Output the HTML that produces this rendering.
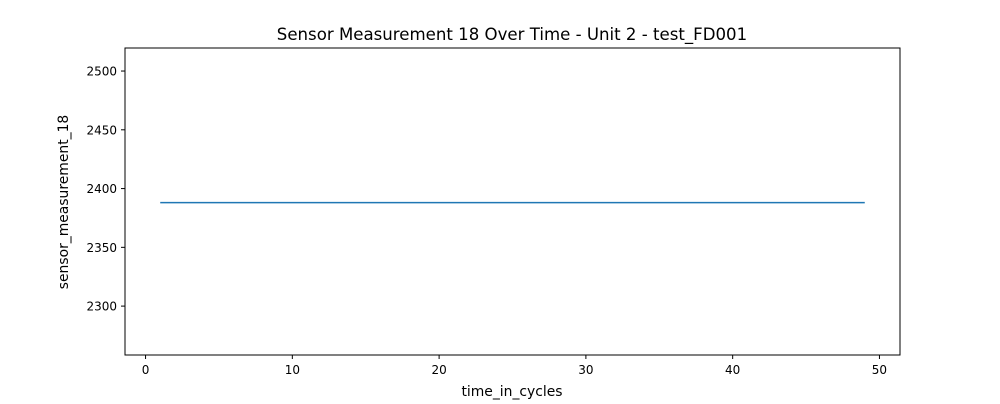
<!DOCTYPE html>
<html><head><meta charset="utf-8"><style>
body{margin:0;background:#fff;font-family:"DejaVu Sans","Liberation Sans",sans-serif;}
</style></head><body>
<svg id="chart" width="1000" height="400" xmlns="http://www.w3.org/2000/svg">
<text x="512" y="40" font-size="16.6" text-anchor="middle">Sensor Measurement 18 Over Time - Unit 2 - test_FD001</text>
<g id="plot"></g>
<text x="512" y="396" font-size="13.9" text-anchor="middle">time_in_cycles</text>
<text x="0" y="0" font-size="13.9" text-anchor="middle" transform="translate(68,202) rotate(-90)">sensor_measurement_18</text>
</svg>
<script>
const cycles = [];
for (let i = 1; i <= 49; i++) cycles.push(i);
const values = [2388,2388,2388,2388,2388,2388,2388,2388,2388,2388,2388,2388,2388,2388,2388,2388,2388,2388,2388,2388,2388,2388,2388,2388,2388,2388,2388,2388,2388,2388,2388,2388,2388,2388,2388,2388,2388,2388,2388,2388,2388,2388,2388,2388,2388,2388,2388,2388,2388];
const xTicks = [0,10,20,30,40,50];
const yTicks = [2300,2350,2400,2450,2500];

const L=125,R=900,T=48,B=355;
const xMin=-1.4,xMax=51.4,yMin=2258.4,yMax=2519.6;
const sx=v=>L+(v-xMin)/(xMax-xMin)*(R-L);
const sy=v=>B-(v-yMin)/(yMax-yMin)*(B-T);
const NS="http://www.w3.org/2000/svg";
const g=document.getElementById('plot');
function mk(t,a){const e=document.createElementNS(NS,t);for(const k in a)e.setAttribute(k,a[k]);g.appendChild(e);return e;}

const frame=mk('rect',{x:L,y:T,width:R-L,height:B-T,fill:'none',stroke:'#000','stroke-width':1});



xTicks.forEach(t=>{
  const x=sx(t);
  const l=mk('line',{x1:x,x2:x,y1:B,y2:B+4,stroke:'#000'});
  
  
  const tx=mk('text',{x:x,y:B+19,'font-size':12,'text-anchor':'middle'});
  tx.textContent=t;
  
  
});
yTicks.forEach(t=>{
  const y=sy(t);
  const l=mk('line',{x1:L-4,x2:L,y1:y,y2:y,stroke:'#000'});
  
  
  const tx=mk('text',{x:L-8,y:y+4.5,'font-size':12,'text-anchor':'end'});
  tx.textContent=t;
  
  
});

const pts=cycles.map((c,i)=>sx(c)+','+sy(values[i])).join(' ');
const line=mk('polyline',{points:pts,fill:'none',stroke:'#1f77b4','stroke-width':1.5});


</script>
</body></html>
